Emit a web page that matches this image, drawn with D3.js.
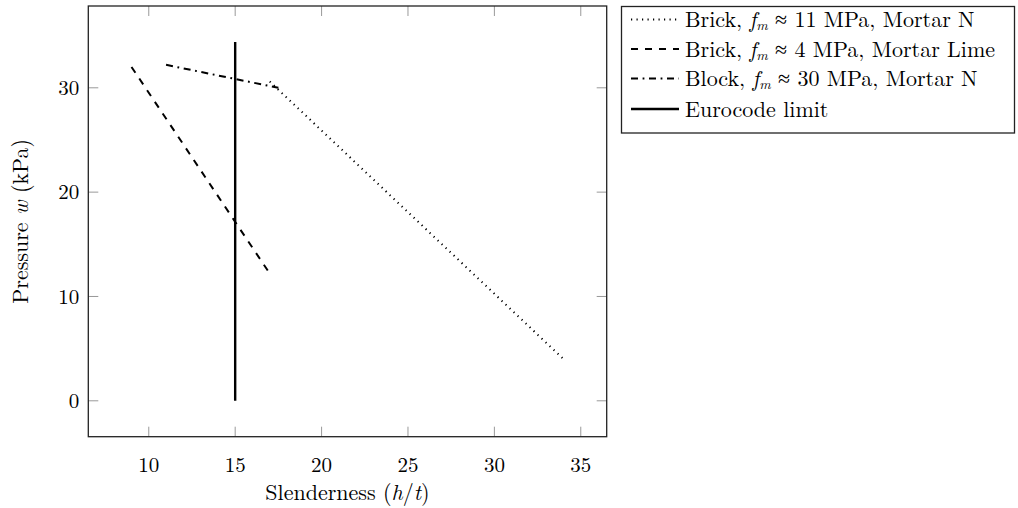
<!DOCTYPE html>
<meta charset='utf-8'>
<style>
  body { margin: 0; background: #fff; }
  svg text { font-family: 'Latin Modern Roman', 'CMU Serif', 'Liberation Serif', serif; fill: #000; }
</style>
<div id='chart'></div>
<script src='https://d3js.org/d3.v7.min.js'></script>
<script>

  // data
  var brick11 = [[17, 30.6], [34, 4]];
  var brick4 = [[9, 32], [17, 12.2]];
  var block30 = [[11, 32.2], [17.5, 30]];
  var eurocode = [[15, 0], [15, 34.4]];
  var xTicks = [10, 15, 20, 25, 30, 35];
  var yTicks = [0, 10, 20, 30];
  var legendNames = [
    ['Brick, ', '11 MPa, Mortar N'],
    ['Brick, ', '4 MPa, Mortar Lime'],
    ['Block, ', '30 MPa, Mortar N'],
    ['Eurocode limit']
  ];

  var margin = {top: 6, left: 88.3},
      width = 518.4,
      height = 430.7,
      fs = '22px';

  var svg = d3.select('#chart')
    .append('svg')
      .attr('width', 1018)
      .attr('height', 508);

  var g = svg.append('g')
      .attr('transform', 'translate(' + margin.left + ',' + margin.top + ')');

  var x = d3.scaleLinear().domain([6.5, 36.5]).range([0, width]);
  var y = d3.scaleLinear().domain([-3.44, 37.84]).range([height, 0]);

  // ticks on all four sides, pointing inwards
  var tickLen = 10;
  xTicks.forEach(function (t) {
    g.append('line').attr('x1', x(t)).attr('x2', x(t)).attr('y1', height).attr('y2', height - tickLen)
      .attr('stroke', '#999').attr('stroke-width', 1);
    g.append('line').attr('x1', x(t)).attr('x2', x(t)).attr('y1', 0).attr('y2', tickLen)
      .attr('stroke', '#999').attr('stroke-width', 1);
    g.append('text').attr('x', x(t)).attr('y', height + 35)
      .attr('text-anchor', 'middle').style('font-size', '21px').text(t);
  });
  yTicks.forEach(function (t) {
    g.append('line').attr('x1', 0).attr('x2', tickLen).attr('y1', y(t)).attr('y2', y(t))
      .attr('stroke', '#999').attr('stroke-width', 1);
    g.append('line').attr('x1', width).attr('x2', width - tickLen).attr('y1', y(t)).attr('y2', y(t))
      .attr('stroke', '#999').attr('stroke-width', 1);
    g.append('text').attr('x', -9).attr('y', y(t)).attr('dy', '0.35em')
      .attr('text-anchor', 'end').style('font-size', '21px').text(t);
  });

  g.append('rect').attr('width', width).attr('height', height)
    .attr('fill', 'none').attr('stroke', '#222').attr('stroke-width', 1.3);

  var line = d3.line().x(function (d) { return x(d[0]); }).y(function (d) { return y(d[1]); });
  var dashes = ['1.2,4.3', '7,7', '7,4.6,1.8,4.6', null];
  var series = [brick11, brick4, block30, eurocode];

  series.forEach(function (s, i) {
    g.append('path').datum(s)
      .attr('d', line)
      .attr('fill', 'none')
      .attr('stroke', '#000')
      .attr('stroke-width', i == 3 ? 2.4 : 2)
      .attr('stroke-dasharray', dashes[i]);
  });

  // axis labels
  var xl = svg.append('text').attr('x', margin.left + width / 2).attr('y', 500)
    .attr('text-anchor', 'middle').style('font-size', fs);
  xl.append('tspan').text('Slenderness (');
  xl.append('tspan').style('font-style', 'italic').text('h');
  xl.append('tspan').text('/');
  xl.append('tspan').style('font-style', 'italic').text('t');
  xl.append('tspan').text(')');

  var yl = svg.append('text')
    .attr('transform', 'translate(28,' + (margin.top + height / 2) + ') rotate(-90)')
    .attr('text-anchor', 'middle').style('font-size', fs);
  yl.append('tspan').text('Pressure ');
  yl.append('tspan').style('font-style', 'italic').text('w');
  yl.append('tspan').text(' (kPa)');

  // legend
  var lg = svg.append('g');
  lg.append('rect').attr('x', 621.5).attr('y', 6.5).attr('width', 393).attr('height', 126.5)
    .attr('fill', '#fff').attr('stroke', '#222').attr('stroke-width', 1.3);
  var rowY = [19.5, 49, 78.5, 109];
  legendNames.forEach(function (n, i) {
    lg.append('line').attr('x1', 631).attr('x2', 679).attr('y1', rowY[i]).attr('y2', rowY[i])
      .attr('stroke', '#000').attr('stroke-width', i == 3 ? 2.4 : 2)
      .attr('stroke-dasharray', dashes[i]);
    var t = lg.append('text').attr('x', 685).attr('y', rowY[i]).attr('dy', '0.35em')
      .style('font-size', fs);
    t.append('tspan').text(n[0]);
    if (n.length > 1) {
      t.append('tspan').style('font-style', 'italic').text('f');
      t.append('tspan').style('font-style', 'italic').style('font-size', '14px').attr('dy', '3').text('m');
      t.append('tspan').attr('dy', '-3').text(' \u2248 ' + n[1]);
    }
  });
</script>
